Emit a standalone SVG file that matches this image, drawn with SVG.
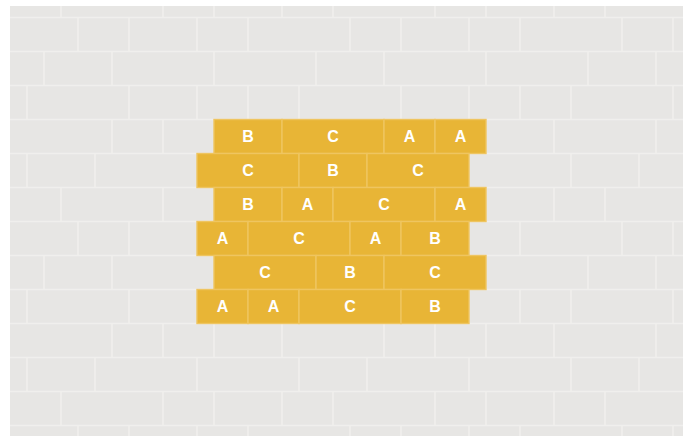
<svg xmlns="http://www.w3.org/2000/svg" width="683" height="436" viewBox="0 0 683 436">
<style>
.wall{fill:#e7e6e4}
.joint{fill:none;stroke:#f0efed;stroke-width:1.6}
.brick{fill:#e8b536;stroke:#efc560;stroke-width:1.4}
.lbl{font-family:"Liberation Sans",Arial,sans-serif;font-weight:bold;font-size:16px;fill:#ffffff;text-anchor:middle}
</style>
<defs>
<clipPath id="wallClip"><rect x="10" y="6" width="673" height="430"/></clipPath>
</defs>
<rect width="683" height="436" fill="#ffffff"/>
<g id="wall" clip-path="url(#wallClip)">
<rect class="wall" x="10" y="6" width="673" height="430"/>
<path class="joint" d="M10 17.5H683M10 51.5H683M10 85.5H683M10 119.5H683M10 153.5H683M10 187.5H683M10 221.5H683M10 255.5H683M10 289.5H683M10 323.5H683M10 357.5H683M10 391.5H683M10 425.5H683
M61 6V17.5M163 6V17.5M214 6V17.5M282 6V17.5M333 6V17.5M435 6V17.5M486 6V17.5M554 6V17.5M605 6V17.5
M78 17.5V51.5M129 17.5V51.5M197 17.5V51.5M248 17.5V51.5M350 17.5V51.5M401 17.5V51.5M469 17.5V51.5M520 17.5V51.5M622 17.5V51.5M673 17.5V51.5
M44 51.5V85.5M112 51.5V85.5M214 51.5V85.5M316 51.5V85.5M384 51.5V85.5M486 51.5V85.5M588 51.5V85.5M656 51.5V85.5
M27 85.5V119.5M129 85.5V119.5M197 85.5V119.5M248 85.5V119.5M299 85.5V119.5M401 85.5V119.5M469 85.5V119.5M520 85.5V119.5M571 85.5V119.5M673 85.5V119.5
M112 119.5V153.5M163 119.5V153.5M554 119.5V153.5M656 119.5V153.5
M27 153.5V187.5M95 153.5V187.5M571 153.5V187.5M639 153.5V187.5
M61 187.5V221.5M163 187.5V221.5M554 187.5V221.5M605 187.5V221.5
M78 221.5V255.5M129 221.5V255.5M520 221.5V255.5M622 221.5V255.5M673 221.5V255.5
M44 255.5V289.5M112 255.5V289.5M588 255.5V289.5M656 255.5V289.5
M27 289.5V323.5M129 289.5V323.5M520 289.5V323.5M571 289.5V323.5M673 289.5V323.5
M112 323.5V357.5M163 323.5V357.5M214 323.5V357.5M282 323.5V357.5M384 323.5V357.5M435 323.5V357.5M486 323.5V357.5M554 323.5V357.5M656 323.5V357.5
M27 357.5V391.5M95 357.5V391.5M197 357.5V391.5M299 357.5V391.5M367 357.5V391.5M469 357.5V391.5M571 357.5V391.5M639 357.5V391.5
M61 391.5V425.5M163 391.5V425.5M214 391.5V425.5M282 391.5V425.5M333 391.5V425.5M435 391.5V425.5M486 391.5V425.5M554 391.5V425.5M605 391.5V425.5
M78 425.5V436M129 425.5V436M197 425.5V436M248 425.5V436M350 425.5V436M401 425.5V436M469 425.5V436M520 425.5V436M622 425.5V436M673 425.5V436"/>
</g>
<g id="connectors"></g>
<g id="r1b1"><rect class="brick" x="214" y="119.5" width="68" height="34"/><text class="lbl" x="248" y="142.3">B</text></g>
<g id="r1b2"><rect class="brick" x="282" y="119.5" width="102" height="34"/><text class="lbl" x="333" y="142.3">C</text></g>
<g id="r1b3"><rect class="brick" x="384" y="119.5" width="51" height="34"/><text class="lbl" x="409.5" y="142.3">A</text></g>
<g id="r1b4"><rect class="brick" x="435" y="119.5" width="51" height="34"/><text class="lbl" x="460.5" y="142.3">A</text></g>
<g id="r2b1"><rect class="brick" x="197" y="153.5" width="102" height="34"/><text class="lbl" x="248" y="176.3">C</text></g>
<g id="r2b2"><rect class="brick" x="299" y="153.5" width="68" height="34"/><text class="lbl" x="333" y="176.3">B</text></g>
<g id="r2b3"><rect class="brick" x="367" y="153.5" width="102" height="34"/><text class="lbl" x="418" y="176.3">C</text></g>
<g id="r3b1"><rect class="brick" x="214" y="187.5" width="68" height="34"/><text class="lbl" x="248" y="210.3">B</text></g>
<g id="r3b2"><rect class="brick" x="282" y="187.5" width="51" height="34"/><text class="lbl" x="307.5" y="210.3">A</text></g>
<g id="r3b3"><rect class="brick" x="333" y="187.5" width="102" height="34"/><text class="lbl" x="384" y="210.3">C</text></g>
<g id="r3b4"><rect class="brick" x="435" y="187.5" width="51" height="34"/><text class="lbl" x="460.5" y="210.3">A</text></g>
<g id="r4b1"><rect class="brick" x="197" y="221.5" width="51" height="34"/><text class="lbl" x="222.5" y="244.3">A</text></g>
<g id="r4b2"><rect class="brick" x="248" y="221.5" width="102" height="34"/><text class="lbl" x="299" y="244.3">C</text></g>
<g id="r4b3"><rect class="brick" x="350" y="221.5" width="51" height="34"/><text class="lbl" x="375.5" y="244.3">A</text></g>
<g id="r4b4"><rect class="brick" x="401" y="221.5" width="68" height="34"/><text class="lbl" x="435" y="244.3">B</text></g>
<g id="r5b1"><rect class="brick" x="214" y="255.5" width="102" height="34"/><text class="lbl" x="265" y="278.3">C</text></g>
<g id="r5b2"><rect class="brick" x="316" y="255.5" width="68" height="34"/><text class="lbl" x="350" y="278.3">B</text></g>
<g id="r5b3"><rect class="brick" x="384" y="255.5" width="102" height="34"/><text class="lbl" x="435" y="278.3">C</text></g>
<g id="r6b1"><rect class="brick" x="197" y="289.5" width="51" height="34"/><text class="lbl" x="222.5" y="312.3">A</text></g>
<g id="r6b2"><rect class="brick" x="248" y="289.5" width="51" height="34"/><text class="lbl" x="273.5" y="312.3">A</text></g>
<g id="r6b3"><rect class="brick" x="299" y="289.5" width="102" height="34"/><text class="lbl" x="350" y="312.3">C</text></g>
<g id="r6b4"><rect class="brick" x="401" y="289.5" width="68" height="34"/><text class="lbl" x="435" y="312.3">B</text></g>
</svg>
